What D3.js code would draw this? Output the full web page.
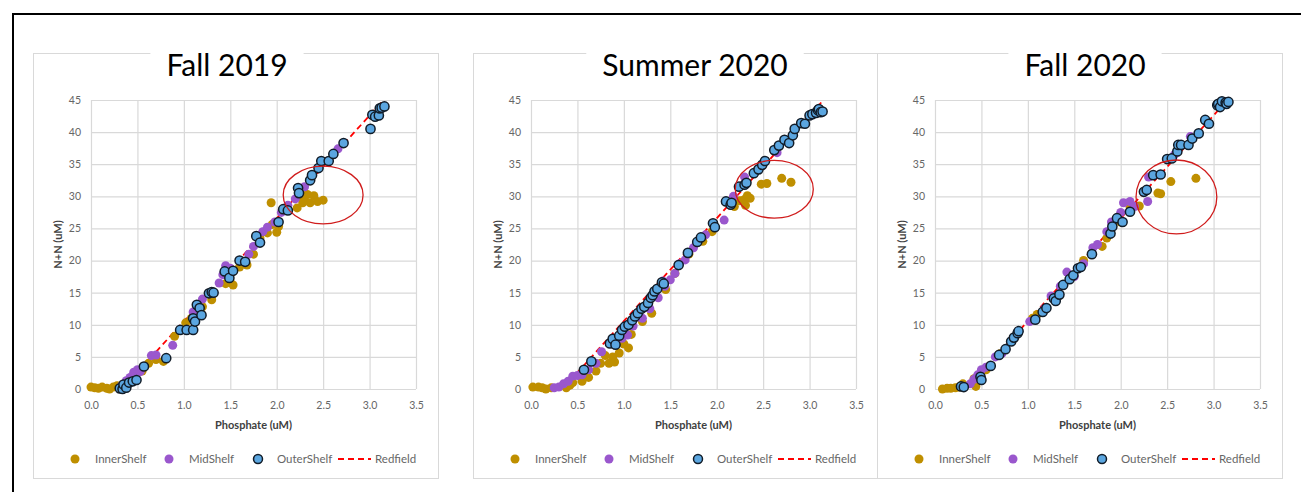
<!DOCTYPE html>
<html>
<head>
<meta charset="utf-8">
<script src="https://cdn.jsdelivr.net/npm/d3@7"></script>
<style>
  body { margin: 0; background: #fff; }
  svg { display: block; font-family: Lato, "Open Sans", sans-serif; }
</style>
</head>
<body>
<div id="chart"></div>
<script>
// series values: [Phosphate (uM), N+N (uM)]
var fall2019Inner = [[0.0,0.3],[0.04,0.2],[0.08,0.1],[0.12,0.3],[0.17,0.1],[0.2,0.0],[0.24,0.3],[0.28,0.5],
  [0.55,2.8],[0.62,4.0],[0.7,4.6],[0.78,4.3],[0.9,8.2],[1.02,10.3],[1.08,11.0],[1.2,12.8],[1.3,13.9],
  [1.45,16.4],[1.5,16.6],[1.53,16.2],[1.6,19.0],[1.68,19.3],[1.75,21.0],[1.82,23.5],[1.9,24.3],[1.95,25.6],
  [2.0,24.4],[2.02,25.3],[1.94,29.0],[2.22,28.2],[2.25,30.0],[2.3,29.4],[2.33,30.3],[2.36,29.0],[2.4,30.1],
  [2.44,29.2],[2.5,29.4],[2.28,29.0]];
var fall2019Mid = [[0.33,0.5],[0.38,1.3],[0.42,1.8],[0.46,2.6],[0.5,3.0],[0.53,2.7],[0.65,5.2],[0.7,5.3],
  [0.88,6.8],[1.1,12.0],[1.2,14.0],[1.3,15.0],[1.38,16.5],[1.42,17.8],[1.45,19.2],[1.5,18.8],[1.7,21.0],
  [1.75,22.2],[1.85,24.5],[1.9,25.2],[1.98,26.0],[2.05,27.5],[2.12,28.6],[2.2,29.6],[2.3,31.5],[2.66,37.4]];
var fall2019Outer = [[0.31,0.1],[0.34,0.0],[0.35,0.7],[0.38,0.2],[0.41,1.0],[0.45,1.2],[0.49,1.4],[0.57,3.5],
  [0.81,4.8],[0.96,9.2],[1.03,9.2],[1.1,9.2],[1.1,11.0],[1.12,10.5],[1.14,13.1],[1.17,12.6],[1.19,11.5],
  [1.27,14.9],[1.3,15.1],[1.32,15.0],[1.44,18.3],[1.49,17.3],[1.53,18.4],[1.6,20.0],[1.66,19.8],[1.78,23.8],
  [1.82,22.8],[2.02,26.0],[2.07,28.0],[2.12,27.8],[2.23,31.3],[2.24,30.5],[2.36,32.5],[2.38,33.3],[2.45,34.4],
  [2.48,35.5],[2.56,35.5],[2.61,36.6],[2.72,38.3],[3.01,40.5],[3.03,42.7],[3.06,42.4],[3.1,42.6],[3.11,43.7],
  [3.13,43.8],[3.16,44.0]];

var summer2020Inner = [[0.02,0.3],[0.08,0.3],[0.12,0.2],[0.16,0.0],[0.22,0.2],[0.38,0.2],[0.42,0.6],[0.45,1.0],
  [0.55,1.2],[0.62,1.8],[0.7,2.8],[0.75,4.0],[0.8,5.2],[0.84,4.0],[0.88,5.0],[0.9,4.2],[0.95,5.6],[1.0,7.0],
  [1.05,6.4],[1.08,8.5],[1.2,10.5],[1.3,11.8],[1.45,15.5],[1.55,18.0],[1.7,21.0],[1.85,23.0],[1.95,24.5],
  [2.19,28.4],[2.25,29.3],[2.3,29.5],[2.33,30.1],[2.36,29.7],[2.31,28.6],[2.48,31.9],[2.54,32.0],[2.7,32.8],
  [2.8,32.2]];
var summer2020Mid = [[0.25,0.2],[0.3,0.3],[0.35,0.8],[0.4,1.2],[0.45,2.0],[0.5,2.1],[0.55,2.2],[0.62,3.0],
  [0.7,4.0],[0.76,5.8],[0.88,7.5],[0.98,7.9],[1.04,8.4],[1.1,9.8],[1.15,11.2],[1.2,11.0],[1.28,12.5],
  [1.37,14.2],[1.42,16.8],[1.44,16.0],[1.5,17.0],[1.55,18.0],[1.6,19.5],[1.66,20.1],[1.75,22.0],[1.88,24.0],
  [2.08,26.3],[2.18,30.0],[2.3,33.0],[2.65,36.8]];
var summer2020Outer = [[0.57,3.0],[0.65,4.3],[0.85,7.1],[0.88,7.8],[0.91,6.9],[0.95,8.3],[0.98,9.2],[1.01,9.7],
  [1.05,10.0],[1.09,10.7],[1.12,11.3],[1.15,11.8],[1.19,12.5],[1.22,12.8],[1.26,13.4],[1.29,14.2],[1.31,14.6],
  [1.33,15.2],[1.36,15.6],[1.41,16.6],[1.43,16.4],[1.59,19.3],[1.69,21.2],[1.79,22.9],[1.83,23.6],[1.96,25.8],
  [1.98,25.2],[2.1,29.2],[2.15,28.7],[2.16,29.0],[2.24,31.5],[2.3,31.8],[2.32,32.1],[2.4,33.6],[2.45,34.2],
  [2.49,34.9],[2.52,35.5],[2.62,37.2],[2.67,37.9],[2.73,38.8],[2.78,38.3],[2.82,39.5],[2.84,40.5],[2.91,41.4],
  [2.95,41.3],[3.0,42.6],[3.03,42.8],[3.07,43.0],[3.09,43.4],[3.1,43.6],[3.12,43.1],[3.14,43.2]];

var fall2020Inner = [[0.08,0.0],[0.13,0.1],[0.17,0.1],[0.22,0.2],[0.26,0.3],[0.3,0.8],[0.42,1.6],[0.44,0.4],
  [0.55,3.0],[0.7,5.5],[0.85,8.0],[1.05,11.0],[1.1,11.6],[1.6,20.0],[1.8,22.2],[1.85,23.5],[2.0,26.0],
  [2.1,28.4],[2.2,28.5],[2.4,30.5],[2.43,30.4],[2.54,32.3],[2.81,32.8]];
var fall2020Mid = [[0.38,0.8],[0.42,1.5],[0.46,2.2],[0.5,3.0],[0.55,3.4],[0.65,5.0],[0.72,5.5],[0.9,9.0],
  [1.02,10.5],[1.18,12.5],[1.25,14.5],[1.35,16.0],[1.42,18.2],[1.5,17.5],[1.6,19.5],[1.7,22.0],[1.75,22.5],
  [1.85,24.5],[1.9,26.0],[2.0,27.5],[2.03,29.0],[2.1,29.2],[2.15,28.4],[2.29,29.2],[2.3,33.0],[2.58,36.5],
  [2.75,39.3]];
var fall2020Outer = [[0.28,0.4],[0.31,0.3],[0.49,1.9],[0.5,1.4],[0.6,3.6],[0.69,5.3],[0.76,6.2],[0.82,7.4],
  [0.85,8.0],[0.89,8.7],[0.9,9.0],[1.08,10.8],[1.16,12.0],[1.2,12.6],[1.28,14.1],[1.3,13.7],[1.34,14.7],
  [1.38,16.2],[1.45,17.1],[1.49,17.7],[1.54,18.8],[1.57,19.0],[1.69,21.0],[1.89,24.2],[1.91,25.3],[1.96,26.6],
  [2.02,26.0],[2.1,27.6],[2.25,30.7],[2.28,31.0],[2.35,33.3],[2.43,33.4],[2.5,35.8],[2.55,35.9],[2.61,37.0],
  [2.62,38.0],[2.65,38.0],[2.73,38.0],[2.77,39.0],[2.84,39.8],[2.91,41.9],[2.95,41.3],[3.04,44.2],[3.05,44.4],
  [3.07,43.9],[3.09,44.8],[3.13,44.6],[3.14,44.4],[3.16,44.7]];

// Redfield reference line (P, N)
var redfieldP = [0.34, 3.15];
var redfieldN = [0, 45];

// circled anomalies: [cx, cy, rx, ry] in data units
var fall2019Circle = [2.50, 30.2, 0.43, 4.5];
var summer2020Circle = [2.62, 31.1, 0.42, 4.5];
var fall2020Circle = [2.60, 29.9, 0.435, 5.76];

var titles = ["Fall 2019", "Summer 2020", "Fall 2020"];
var xTicks = [0, 0.5, 1, 1.5, 2, 2.5, 3, 3.5];
var yTicks = [0, 5, 10, 15, 20, 25, 30, 35, 40, 45];
var seriesNames = ["InnerShelf", "MidShelf", "OuterShelf", "Redfield"];

var panels = [
  {title: titles[0], inner: fall2019Inner, mid: fall2019Mid, outer: fall2019Outer, circle: fall2019Circle},
  {title: titles[1], inner: summer2020Inner, mid: summer2020Mid, outer: summer2020Outer, circle: summer2020Circle},
  {title: titles[2], inner: fall2020Inner, mid: fall2020Mid, outer: fall2020Outer, circle: fall2020Circle}
];

// layout
var width = 1301, height = 492;
var boxLeft = [33, 473, 877];
var titleOffset = [194, 222, 208];
var boxTop = 53, boxW = 405, boxH = 425;
var plotTop = 100, plotBottom = 389;

var colInner = "#bf8f00", colMid = "#9a57cd", colOuter = "#5ba6e0", colOuterStroke = "#111c28";
var gridCol = "#d9d9d9";

var svg = d3.select("#chart").append("svg")
  .attr("width", width)
  .attr("height", height);

svg.append("rect").attr("width", width).attr("height", height).attr("fill", "#fff");

// outer black frame
svg.append("rect")
  .attr("x", 13).attr("y", 14)
  .attr("width", 1400).attr("height", 600)
  .attr("fill", "none")
  .attr("stroke", "#000")
  .attr("stroke-width", 2);

panels.forEach(function (p, i) {
  var bx = boxLeft[i];
  var g = svg.append("g");

  g.append("rect")
    .attr("x", bx + 0.5).attr("y", boxTop + 0.5)
    .attr("width", boxW).attr("height", boxH)
    .attr("fill", "#fff")
    .attr("stroke", gridCol)
    .attr("stroke-width", 1);

  var x = d3.scaleLinear().domain([0, 3.5]).range([bx + 58, bx + 383]);
  var y = d3.scaleLinear().domain([0, 45]).range([plotBottom, plotTop]);

  // grid + tick labels
  var xAxis = g.append("g")
    .attr("transform", "translate(0," + plotBottom + ")")
    .call(d3.axisBottom(x).tickValues(xTicks).tickFormat(d3.format(".1f"))
      .tickSize(-(plotBottom - plotTop)).tickPadding(13));
  var yAxis = g.append("g")
    .attr("transform", "translate(" + x(0) + ",0)")
    .call(d3.axisLeft(y).tickValues(yTicks).tickSize(-(x(3.5) - x(0))).tickPadding(10));
  [xAxis, yAxis].forEach(function (a) {
    a.select(".domain").remove();
    a.selectAll("line").attr("stroke", gridCol).attr("stroke-width", 1.2);
    a.selectAll("text").attr("fill", "#666").style("font-size", "10.5px")
      .style("font-family", "Lato, sans-serif");
  });

  // Redfield
  g.append("line")
    .attr("x1", x(redfieldP[0])).attr("y1", y(redfieldN[0]))
    .attr("x2", x(redfieldP[1])).attr("y2", y(redfieldN[1]))
    .attr("stroke", "#ff0000")
    .attr("stroke-width", 1.8)
    .attr("stroke-dasharray", "6,4");

  g.append("g").selectAll("circle").data(p.inner).enter().append("circle")
    .attr("cx", function (d) { return x(d[0]); })
    .attr("cy", function (d) { return y(d[1]); })
    .attr("r", 4.5)
    .attr("fill", colInner);

  g.append("g").selectAll("circle").data(p.mid).enter().append("circle")
    .attr("cx", function (d) { return x(d[0]); })
    .attr("cy", function (d) { return y(d[1]); })
    .attr("r", 4.5)
    .attr("fill", colMid);

  g.append("g").selectAll("circle").data(p.outer).enter().append("circle")
    .attr("cx", function (d) { return x(d[0]); })
    .attr("cy", function (d) { return y(d[1]); })
    .attr("r", 4.6)
    .attr("fill", colOuter)
    .attr("stroke", colOuterStroke)
    .attr("stroke-width", 1.5);

  // red circle annotation
  var c = p.circle;
  g.append("ellipse")
    .attr("cx", x(c[0])).attr("cy", y(c[1]))
    .attr("rx", x(c[2]) - x(0)).attr("ry", y(0) - y(c[3]))
    .attr("fill", "none")
    .attr("stroke", "#d01c1c")
    .attr("stroke-width", 1.3);

  // axis titles
  g.append("text")
    .attr("x", (x(0) + x(3.5)) / 2).attr("y", 429)
    .attr("text-anchor", "middle")
    .attr("fill", "#404040")
    .style("font-size", "11px").style("font-weight", "bold")
    .text("Phosphate (uM)");
  g.append("text")
    .attr("transform", "translate(" + (bx + 29) + "," + ((plotTop + plotBottom) / 2) + ") rotate(-90)")
    .attr("text-anchor", "middle")
    .attr("fill", "#404040")
    .style("font-size", "11px").style("font-weight", "bold")
    .text("N+N (uM)");

  // title with white gap in the border
  var tx = bx + titleOffset[i];
  var gap = g.append("rect").attr("fill", "#fff");
  var t = g.append("text")
    .attr("x", tx).attr("y", 76)
    .attr("text-anchor", "middle")
    .attr("fill", "#000")
    .style("font-size", "30px")
    .text(p.title);
  var tw = t.node().getComputedTextLength();
  gap.attr("x", tx - tw / 2 - 16).attr("y", boxTop - 3)
    .attr("width", tw + 32).attr("height", 8);

  // legend
  var ly = 459;
  var lg = g.append("g").style("font-size", "11.5px");
  var legendItems = [
    {name: seriesNames[0], mx: 42, tx: 62, fill: colInner},
    {name: seriesNames[1], mx: 136, tx: 156, fill: colMid},
    {name: seriesNames[2], mx: 225, tx: 244, fill: colOuter, stroke: colOuterStroke}
  ];
  legendItems.forEach(function (it) {
    lg.append("circle")
      .attr("cx", bx + it.mx).attr("cy", ly).attr("r", 4.5)
      .attr("fill", it.fill)
      .attr("stroke", it.stroke || "none")
      .attr("stroke-width", 1.5);
    lg.append("text")
      .attr("x", bx + it.tx).attr("y", ly + 4)
      .attr("fill", "#666")
      .text(it.name);
  });
  lg.append("line")
    .attr("x1", bx + 305).attr("x2", bx + 338)
    .attr("y1", ly).attr("y2", ly)
    .attr("stroke", "#ff0000").attr("stroke-width", 1.8)
    .attr("stroke-dasharray", "6,4");
  lg.append("text")
    .attr("x", bx + 342).attr("y", ly + 4)
    .attr("fill", "#666")
    .text(seriesNames[3]);
});
</script>
</body>
</html>
